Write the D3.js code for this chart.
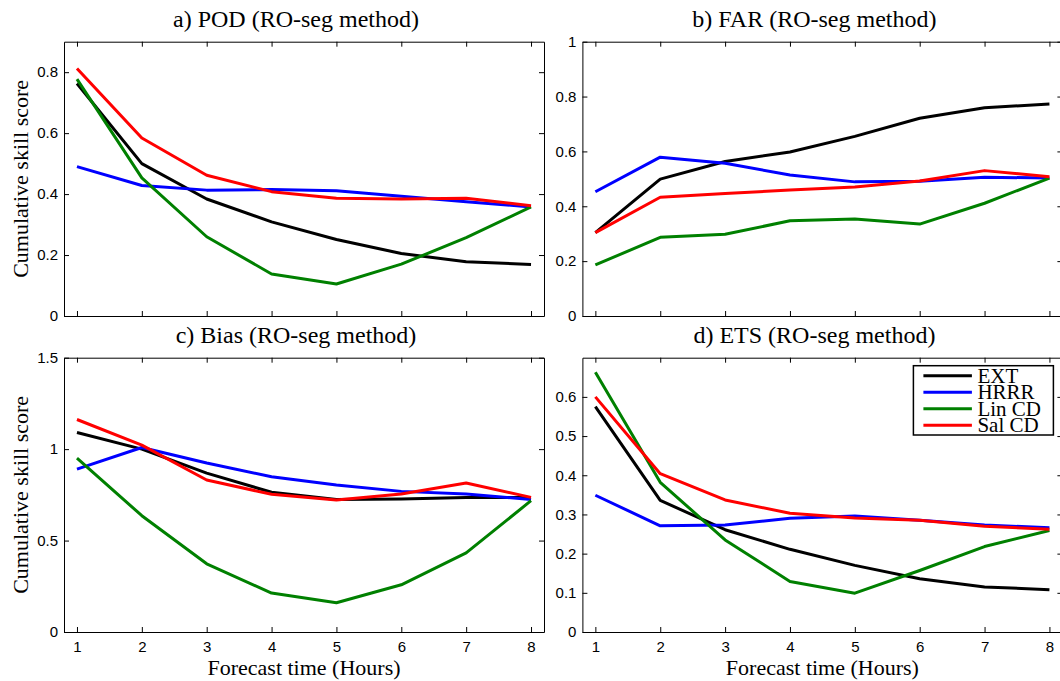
<!DOCTYPE html>
<html>
<head>
<meta charset="utf-8">
<script src="https://cdnjs.cloudflare.com/ajax/libs/d3/7.8.5/d3.min.js"></script>
<style>
  body { margin: 0; background: #fff; }
  .tick text { font-family: "Liberation Sans", Arial, sans-serif; font-size: 15px; fill: #000; }
  .axis path, .axis line { stroke: #000; stroke-width: 1; }
</style>
</head>
<body>
<div id="chart"></div>
<script>
var hours = [1, 2, 3, 4, 5, 6, 7, 8];
var models = ["EXT", "HRRR", "Lin CD", "Sal CD"];
var colors = ["#000000", "#0000ff", "#008000", "#ff0000"];

// a) POD
var podEXT  = [0.763, 0.500, 0.384, 0.309, 0.251, 0.205, 0.178, 0.169];
var podHRRR = [0.490, 0.428, 0.413, 0.415, 0.411, 0.393, 0.375, 0.358];
var podLin  = [0.777, 0.453, 0.260, 0.138, 0.105, 0.170, 0.257, 0.358];
var podSal  = [0.812, 0.584, 0.462, 0.408, 0.386, 0.384, 0.386, 0.362];

// b) FAR
var farEXT  = [0.304, 0.499, 0.563, 0.598, 0.655, 0.721, 0.759, 0.773];
var farHRRR = [0.453, 0.579, 0.557, 0.514, 0.489, 0.491, 0.506, 0.503];
var farLin  = [0.186, 0.287, 0.298, 0.347, 0.354, 0.335, 0.411, 0.503];
var farSal  = [0.304, 0.433, 0.447, 0.459, 0.470, 0.492, 0.530, 0.508];

// c) Bias
var biasEXT  = [1.091, 1.000, 0.869, 0.764, 0.724, 0.727, 0.736, 0.736];
var biasHRRR = [0.891, 1.009, 0.924, 0.849, 0.804, 0.769, 0.755, 0.724];
var biasLin  = [0.951, 0.636, 0.373, 0.213, 0.160, 0.258, 0.433, 0.718];
var biasSal  = [1.162, 1.022, 0.831, 0.753, 0.722, 0.755, 0.815, 0.736];

// d) ETS
var etsEXT  = [0.575, 0.336, 0.261, 0.211, 0.170, 0.136, 0.115, 0.108];
var etsHRRR = [0.349, 0.271, 0.273, 0.290, 0.296, 0.285, 0.273, 0.266];
var etsLin  = [0.663, 0.382, 0.235, 0.129, 0.099, 0.157, 0.218, 0.259];
var etsSal  = [0.600, 0.404, 0.337, 0.303, 0.291, 0.285, 0.270, 0.262];

var podTicks  = [0, 0.2, 0.4, 0.6, 0.8];
var farTicks  = [0, 0.2, 0.4, 0.6, 0.8, 1];
var biasTicks = [0, 0.5, 1, 1.5];
var etsTicks  = [0, 0.1, 0.2, 0.3, 0.4, 0.5, 0.6];

var serif = "'Liberation Serif', 'Times New Roman', Times, serif";

var svg = d3.select("#chart").append("svg")
  .attr("width", 1060)
  .attr("height", 681);

var w = 480, h = 274.3;

function renderPanel(opt) {
  var x = d3.scaleLinear().domain([0.8, 8.2]).range([0, w]);
  var y = d3.scaleLinear().domain([0, opt.ymax]).range([h, 0]);
  var fmt = function(d) { return String(+d.toFixed(2)); };

  var g = svg.append("g")
    .attr("transform", "translate(" + opt.left + "," + opt.top + ")");

  g.append("g")
    .attr("class", "axis")
    .attr("transform", "translate(0," + h + ")")
    .call(d3.axisBottom(x).tickValues(hours).tickSizeInner(-5).tickSizeOuter(0).tickPadding(9)
      .tickFormat(opt.xlabels ? d3.format("d") : ""));

  g.append("g")
    .attr("class", "axis")
    .call(d3.axisTop(x).tickValues(hours).tickSizeInner(-5).tickSizeOuter(0).tickFormat(""));

  g.append("g")
    .attr("class", "axis")
    .call(d3.axisLeft(y).tickValues(opt.ticks).tickSizeInner(-5).tickSizeOuter(0).tickPadding(6).tickFormat(fmt));

  g.append("g")
    .attr("class", "axis")
    .attr("transform", "translate(" + w + ",0)")
    .call(d3.axisRight(y).tickValues(opt.ticks).tickSizeInner(-5).tickSizeOuter(0).tickFormat(""));

  var line = d3.line()
    .x(function(d, i) { return x(hours[i]); })
    .y(function(d) { return y(d); });

  opt.series.forEach(function(s, i) {
    g.append("path")
      .datum(s)
      .attr("fill", "none")
      .attr("stroke", colors[i])
      .attr("stroke-width", 3)
      .attr("stroke-linejoin", "round")
      .attr("d", line);
  });

  g.append("text")
    .attr("x", w / 2 - 8)
    .attr("y", -15)
    .attr("text-anchor", "middle")
    .style("font-family", serif)
    .style("font-size", "24px")
    .text(opt.title);

  if (opt.xlabels) {
    g.append("text")
      .attr("x", w / 2)
      .attr("y", h + 43)
      .attr("text-anchor", "middle")
      .style("font-family", serif)
      .style("font-size", "22px")
      .text("Forecast time (Hours)");
  }

  if (opt.ylabel) {
    g.append("text")
      .attr("transform", "translate(-36," + (h / 2) + ") rotate(-90)")
      .attr("text-anchor", "middle")
      .style("font-family", serif)
      .style("font-size", "22px")
      .text("Cumulative skill score");
  }

  if (opt.legend) {
    var lg = g.append("g").attr("transform", "translate(331,8)");
    lg.append("rect")
      .attr("width", 140)
      .attr("height", 69.3)
      .attr("fill", "#fff")
      .attr("stroke", "#000")
      .attr("stroke-width", 1.5);
    models.forEach(function(m, i) {
      var ly = 10 + i * 16.5;
      lg.append("line")
        .attr("x1", 10).attr("x2", 58.5)
        .attr("y1", ly).attr("y2", ly)
        .attr("stroke", colors[i])
        .attr("stroke-width", 3);
      lg.append("text")
        .attr("x", 64)
        .attr("y", ly + 7.3)
        .style("font-family", serif)
        .style("font-size", "21px")
        .text(m);
    });
  }
}

renderPanel({ left: 64, top: 41.7, ymax: 0.9, ticks: podTicks, title: "a) POD (RO-seg method)",
  series: [podEXT, podHRRR, podLin, podSal], xlabels: false, ylabel: true });
renderPanel({ left: 582.4, top: 41.7, ymax: 1, ticks: farTicks, title: "b) FAR (RO-seg method)",
  series: [farEXT, farHRRR, farLin, farSal], xlabels: false, ylabel: false });
renderPanel({ left: 64, top: 357.7, ymax: 1.5, ticks: biasTicks, title: "c) Bias (RO-seg method)",
  series: [biasEXT, biasHRRR, biasLin, biasSal], xlabels: true, ylabel: true });
renderPanel({ left: 582.4, top: 357.7, ymax: 0.7, ticks: etsTicks, title: "d) ETS (RO-seg method)",
  series: [etsEXT, etsHRRR, etsLin, etsSal], xlabels: true, ylabel: false, legend: true });
</script>
</body>
</html>
